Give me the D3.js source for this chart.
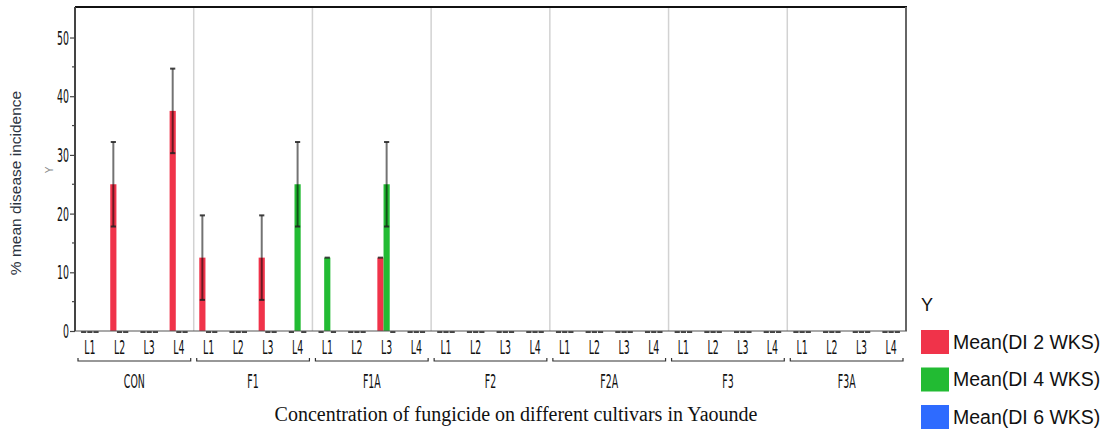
<!DOCTYPE html>
<html>
<head>
<meta charset="utf-8">
<script src="https://cdn.jsdelivr.net/npm/d3@7"></script>
<style>
  html, body { margin: 0; padding: 0; background: #fff; }
  svg { display: block; }
</style>
</head>
<body>
<div id="chart"></div>
<script>
// ---------- DATA ----------
const groups = ["CON", "F1", "F1A", "F2", "F2A", "F3", "F3A"];
const levels = ["L1", "L2", "L3", "L4"];
const seriesNames = ["Mean(DI 2 WKS)", "Mean(DI 4 WKS)", "Mean(DI 6 WKS)"];
const seriesColors = ["#f0334a", "#22bb33", "#2e6bff"];
const yTicks = [0, 10, 20, 30, 40, 50];
const yMinorTicks = [5, 15, 25, 35, 45];

// values per series, ordered group-major then level (CON L1..L4, F1 L1..L4, ...)
const di2 = [0, 25, 0, 37.5,  12.5, 0, 12.5, 0,  0, 0, 12.5, 0,  0,0,0,0, 0,0,0,0, 0,0,0,0, 0,0,0,0];
const di4 = [0, 0, 0, 0,      0, 0, 0, 25,       12.5, 0, 25, 0, 0,0,0,0, 0,0,0,0, 0,0,0,0, 0,0,0,0];
const di6 = [0, 0, 0, 0,      0, 0, 0, 0,        0, 0, 0, 0,     0,0,0,0, 0,0,0,0, 0,0,0,0, 0,0,0,0];
const err2 = [0, 7.2, 0, 7.2, 7.2, 0, 7.2, 0,    0, 0, 0, 0,     0,0,0,0, 0,0,0,0, 0,0,0,0, 0,0,0,0];
const err4 = [0, 0, 0, 0,     0, 0, 0, 7.2,      0, 0, 7.2, 0,   0,0,0,0, 0,0,0,0, 0,0,0,0, 0,0,0,0];
const err6 = [0, 0, 0, 0,     0, 0, 0, 0,        0, 0, 0, 0,     0,0,0,0, 0,0,0,0, 0,0,0,0, 0,0,0,0];

const yTitle = "% mean disease incidence";
const xTitle = "Concentration of fungicide on different cultivars in Yaounde";
const legendTitle = "Y";

// ---------- BUILD ----------
const seriesVals = [di2, di4, di6];
const seriesErr = [err2, err4, err6];
const rows = [];
groups.forEach((g, gi) => levels.forEach((l, li) => seriesNames.forEach((s, si) => {
  const idx = gi * levels.length + li;
  rows.push({ g, l, s, si, v: seriesVals[si][idx], e: seriesErr[si][idx] });
})));

const W = 1105, H = 429;
const pL = 75, pR = 906, pT = 7, pB = 331;

const svg = d3.select("#chart").append("svg").attr("width", W).attr("height", H);

const y = d3.scaleLinear().domain([0, 55.2]).range([pB, pT]);
const x0 = d3.scaleBand().domain(groups).range([pL, pR]).padding(0);
const x1 = d3.scaleBand().domain(levels).range([0, x0.bandwidth()]).padding(0);
const x2 = d3.scaleBand().domain(seriesNames).range([0, x1.bandwidth()]).paddingInner(0).paddingOuter(0.9);
const color = d3.scaleOrdinal().domain(seriesNames).range(seriesColors);

const narrow = "'Liberation Sans Narrow', 'DejaVu Sans Condensed', sans-serif";
const SX = 0.55;
const NFS = 19;

// group dividers
svg.append("g").selectAll("line").data(groups.slice(1)).join("line")
  .attr("x1", d => x0(d)).attr("x2", d => x0(d))
  .attr("y1", pT).attr("y2", pB)
  .attr("stroke", "#d2d2d2").attr("stroke-width", 1.5);

// bars
const bx = d => x0(d.g) + x1(d.l) + x2(d.s);
svg.append("g").selectAll("rect").data(rows.filter(d => d.v > 0)).join("rect")
  .attr("x", bx).attr("width", x2.bandwidth())
  .attr("y", d => y(d.v)).attr("height", d => y(0) - y(d.v))
  .attr("fill", d => color(d.s));

// error bars
const eg = svg.append("g");
eg.selectAll("line.stem").data(rows.filter(d => d.e > 0)).join("line")
  .attr("class", "stem")
  .attr("x1", d => bx(d) + x2.bandwidth() / 2).attr("x2", d => bx(d) + x2.bandwidth() / 2)
  .attr("y1", d => y(d.v - d.e)).attr("y2", d => y(d.v + d.e))
  .attr("stroke", "#000").attr("stroke-opacity", 0.55).attr("stroke-width", 2);
const caps = [];
rows.forEach(d => { caps.push({ d, val: d.v + d.e }); if (d.e > 0) caps.push({ d, val: d.v - d.e }); });
eg.selectAll("line.cap").data(caps).join("line")
  .attr("class", "cap")
  .attr("x1", c => bx(c.d) + 0.5).attr("x2", c => bx(c.d) + x2.bandwidth() - 0.5)
  .attr("y1", c => y(c.val) + (c.val === 0 ? 1 : 0)).attr("y2", c => y(c.val) + (c.val === 0 ? 1 : 0))
  .attr("stroke", "#222").attr("stroke-opacity", 0.85).attr("stroke-width", 2);

// frame
svg.append("line").attr("x1", pL).attr("x2", pR + 1).attr("y1", pT).attr("y2", pT)
  .attr("stroke", "#111").attr("stroke-width", 2);
svg.append("line").attr("x1", pR).attr("x2", pR).attr("y1", pT).attr("y2", pB)
  .attr("stroke", "#666").attr("stroke-width", 2);
svg.append("line").attr("x1", pL).attr("x2", pR + 1).attr("y1", pB).attr("y2", pB)
  .attr("stroke", "#555").attr("stroke-width", 1.2);

// y axis
const yAxis = d3.axisLeft(y).tickValues(yTicks).tickSize(5).tickFormat(d3.format("d"));
const ya = svg.append("g").attr("transform", `translate(${pL},0)`).call(yAxis);
ya.select(".domain").attr("d", `M0,${pT}V${pB}`).attr("stroke", "#444").attr("stroke-width", 2);
ya.selectAll(".tick line").attr("stroke", "#444").attr("stroke-width", 1.2);
ya.selectAll(".tick text")
  .attr("x", null).attr("dy", null)
  .attr("transform", `translate(-6,6.5) scale(${SX},1)`)
  .attr("text-anchor", "end")
  .attr("font-family", narrow).attr("font-size", NFS).attr("fill", "#111");
svg.append("g").selectAll("line").data(yMinorTicks).join("line")
  .attr("x1", pL - 3).attr("x2", pL).attr("y1", d => y(d)).attr("y2", d => y(d))
  .attr("stroke", "#444").attr("stroke-width", 1.2);

// x level labels
const lvlRows = [];
groups.forEach(g => levels.forEach(l => lvlRows.push({ g, l })));
svg.append("g").selectAll("text").data(lvlRows).join("text")
  .attr("transform", d => `translate(${x0(d.g) + x1(d.l) + x1.bandwidth() / 2},353.5) scale(${SX},1)`)
  .attr("text-anchor", "middle")
  .attr("font-family", narrow).attr("font-size", NFS).attr("fill", "#111")
  .text(d => d.l);

// group brackets
const br = svg.append("g");
br.selectAll("path").data(groups).join("path")
  .attr("d", g => {
    const a = x0(g) + 3, b = x0(g) + x0.bandwidth() - 3;
    return `M${a},358V361H${b}V358`;
  })
  .attr("fill", "none").attr("stroke", "#333").attr("stroke-width", 1.2);
br.selectAll("text").data(groups).join("text")
  .attr("transform", g => `translate(${x0(g) + x0.bandwidth() / 2},387.5) scale(${SX},1)`)
  .attr("text-anchor", "middle")
  .attr("font-family", narrow).attr("font-size", NFS).attr("fill", "#111")
  .text(g => g);

// titles
svg.append("text")
  .attr("x", 516).attr("y", 421)
  .attr("text-anchor", "middle")
  .attr("font-family", "'Liberation Serif', 'Times New Roman', serif")
  .attr("font-size", 20).attr("fill", "#111")
  .text(xTitle);
svg.append("text")
  .attr("transform", "translate(21,183) rotate(-90)")
  .attr("text-anchor", "middle")
  .attr("font-family", "'Liberation Sans', Arial, sans-serif")
  .attr("font-size", 15.5).attr("fill", "#2a3340")
  .text(yTitle);
svg.append("text")
  .attr("transform", "translate(53,170) rotate(-90)")
  .attr("text-anchor", "middle")
  .attr("font-family", "'Liberation Sans', Arial, sans-serif")
  .attr("font-size", 10).attr("fill", "#888")
  .text("Y");

// legend
const lg = svg.append("g");
lg.append("text").attr("x", 921).attr("y", 311)
  .attr("font-family", "'Liberation Sans', Arial, sans-serif").attr("font-size", 18).attr("fill", "#111")
  .text(legendTitle);
const li = lg.selectAll("g.item").data(seriesNames).join("g").attr("class", "item")
  .attr("transform", (d, i) => `translate(921,${330 + i * 37.5})`);
li.append("rect").attr("width", 28).attr("height", 24).attr("fill", d => color(d));
li.append("text").attr("x", 32).attr("y", 18.5)
  .attr("font-family", "'Liberation Sans', Arial, sans-serif").attr("font-size", 19.5).attr("fill", "#111")
  .text(d => d);
</script>
</body>
</html>
